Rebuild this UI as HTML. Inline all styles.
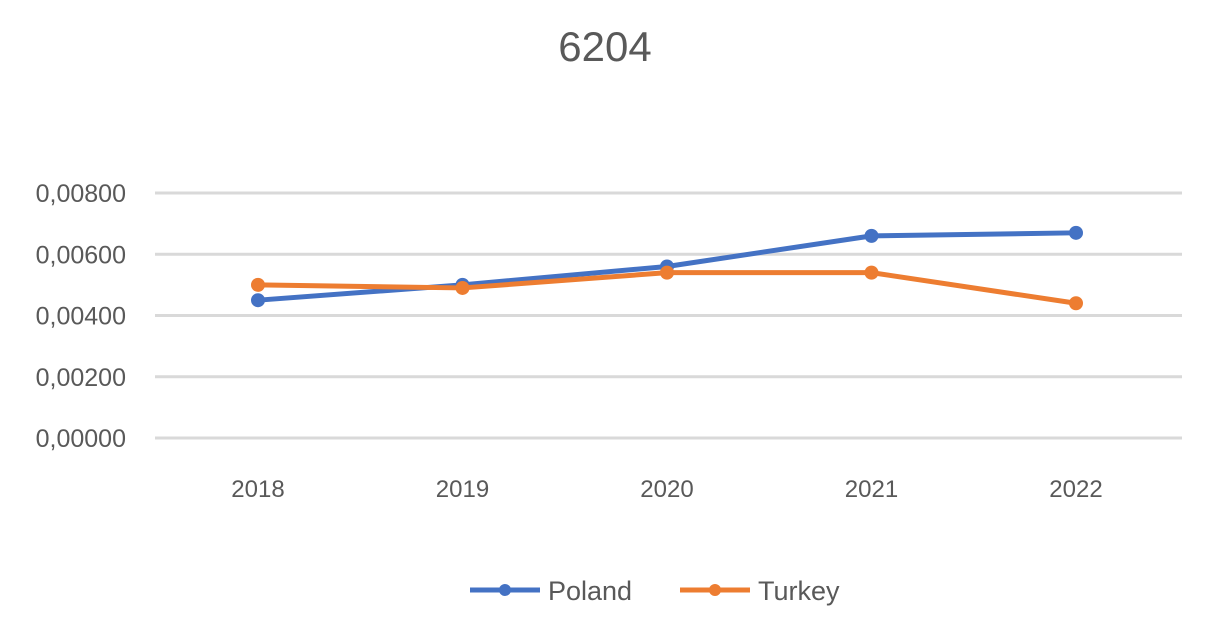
<!DOCTYPE html>
<html><head><meta charset="utf-8"><style>
html,body{margin:0;padding:0;background:#fff;}
svg{display:block;font-family:"Liberation Sans",sans-serif;}
</style></head><body>
<svg id="chart" width="1213" height="617" viewBox="0 0 1213 617">
<text x="605" y="61" text-anchor="middle" font-size="42" fill="#595959">6204</text>
<g id="grid"></g><g id="xlabels"></g><g id="series"></g>
<g>
<g>
<line x1="470" y1="590" x2="540" y2="590" stroke="#4472C4" stroke-width="5"/>
<circle cx="505" cy="590" r="6" fill="#4472C4"/>
<text x="548" y="600" font-size="27" fill="#595959">Poland</text></g>
<g>
<line x1="680" y1="590" x2="750" y2="590" stroke="#ED7D31" stroke-width="5"/>
<circle cx="715" cy="590" r="6" fill="#ED7D31"/>
<text x="758" y="600" font-size="27" fill="#595959">Turkey</text></g>
</g>
</svg>
<script>
const categories=["2018","2019","2020","2021","2022"];
const poland=[0.0045,0.0050,0.0056,0.0066,0.0067];
const turkey=[0.0050,0.0049,0.0054,0.0054,0.0044];
const yTicks=[0,0.002,0.004,0.006,0.008];
const yTickLabels=["0,00000","0,00200","0,00400","0,00600","0,00800"];
const NS="http://www.w3.org/2000/svg";
const y=v=>438-(v/0.008)*245;
const x=i=>258+i*204.5;
function mk(tag,attrs,parent){const e=document.createElementNS(NS,tag);for(const k in attrs)e.setAttribute(k,attrs[k]);parent.appendChild(e);return e;}
const grid=document.getElementById('grid');
yTicks.forEach((t,i)=>{
 const l=mk('line',{x1:155,x2:1182,y1:y(t),y2:y(t),stroke:'#d9d9d9','stroke-width':3},grid);
 
 
 const tx=mk('text',{x:126,y:y(t)+9,'text-anchor':'end','font-size':25,fill:'#595959'},grid);
 tx.textContent=yTickLabels[i];
 
 
});
const xl=document.getElementById('xlabels');
categories.forEach((c,i)=>{
 const tx=mk('text',{x:x(i),y:497,'text-anchor':'middle','font-size':24,fill:'#595959'},xl);
 tx.textContent=c;
 
 
});
const sg=document.getElementById('series');
[[poland,'#4472C4','poland'],[turkey,'#ED7D31','turkey']].forEach(([d,col,n])=>{
 const p=mk('polyline',{points:d.map((v,i)=>x(i)+','+y(v)).join(' '),fill:'none',stroke:col,'stroke-width':5,'stroke-linejoin':'round'},sg);
 
 
 d.forEach((v,i)=>{
  const c=mk('circle',{cx:x(i),cy:y(v),r:7,fill:col},sg);
  
  
 });
});
</script>
</body></html>
